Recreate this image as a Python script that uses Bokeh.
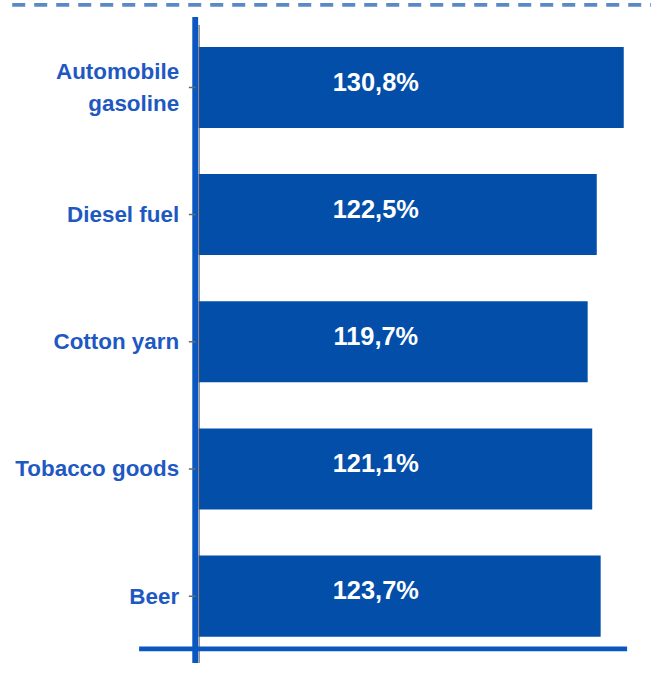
from bokeh.plotting import figure
from bokeh.models import Range1d, ColumnDataSource
from bokeh.core.properties import value
from bokeh.embed import file_html
from bokeh.resources import INLINE

# ---- data ----
categories = ["Automobile\ngasoline", "Diesel fuel", "Cotton yarn", "Tobacco goods", "Beer"]
values = [130.8, 122.5, 119.7, 121.1, 123.7]
value_labels = [f"{v:.1f}".replace(".", ",") + "%" for v in values]

# ---- layout constants ----
REF_W, REF_H = 667, 679          # design space
W, H = 651, 663                  # actual figure size
S = W / REF_W                    # pixel scale for widths / fonts / offsets
ZERO_PX = 203.0        # design x of value 0
PX_PER_UNIT = 3.33     # design pixels per percentage point
ROW0_PX = 89.0         # design y of first bar centre
PITCH_PX = 130.25      # design distance between bar centres

def ux(px):  # design x -> data x
    return (px - ZERO_PX) / PX_PER_UNIT

def uy(py):  # design y -> data y (row index)
    return (py - ROW0_PX) / PITCH_PX

BAR_COLOR = "#034EA8"
AXIS_BLUE = "#0A57C2"
LABEL_BLUE = "#1E58C2"
DASH_BLUE = "#5A89C8"
FONT = "Liberation Sans"

idx = list(range(len(categories)))
src = ColumnDataSource(dict(y=idx, v=values, cat=categories, lab=value_labels,
                            zero=[0] * len(idx)))

p = figure(width=W, height=H, output_backend="svg", toolbar_location=None,
           x_range=Range1d(ux(0), ux(REF_W)), y_range=Range1d(uy(REF_H), uy(0)),
           min_border=0, min_border_left=0, min_border_right=0,
           min_border_top=0, min_border_bottom=0)
p.xaxis.visible = False
p.yaxis.visible = False
p.grid.visible = False
p.outline_line_color = None
p.background_fill_color = "white"
p.border_fill_color = "white"

# dashed rule at the top
p.segment(x0=ux(12), y0=uy(4.5), x1=ux(REF_W), y1=uy(4.5), line_color=DASH_BLUE,
          line_width=4 * S, line_dash="13 9")

# bars
p.hbar(y="y", left=0, right="v", height=83 / PITCH_PX, source=src,
       fill_color=BAR_COLOR, line_color=None)

# vertical axis line
p.segment(x0=ux(199.5), y0=uy(17), x1=ux(199.5), y1=uy(REF_H + 20),
          line_color=AXIS_BLUE, line_width=6 * S)
p.segment(x0=ux(203.5), y0=uy(25), x1=ux(203.5), y1=uy(REF_H + 20),
          line_color="#4a4f5a", line_width=1)

# tick marks
p.segment(x0=ux(193), y0="y", x1=ux(200), y1="y", source=src,
          line_color="#6a6a6a", line_width=1.5)

# bottom rule
p.segment(x0=ux(142), y0=uy(664), x1=ux(642), y1=uy(664),
          line_color=AXIS_BLUE, line_width=5 * S)

# category labels
p.text(x="zero", y="y", text="cat", source=src, x_offset=-20 * S,
       text_align="right", text_baseline="middle",
       text_font=value(FONT), text_font_style="bold",
       text_font_size=f"{23 * S:.1f}px", text_color=LABEL_BLUE,
       text_line_height=1.26)

# value labels
p.text(x=ux(384.5), y="y", text="lab", source=src, y_offset=-6 * S,
       text_align="center", text_baseline="middle",
       text_font=value(FONT), text_font_style="bold",
       text_font_size=f"{26 * S:.1f}px", text_color="white")

open("out.html", "w").write(file_html(p, INLINE))
